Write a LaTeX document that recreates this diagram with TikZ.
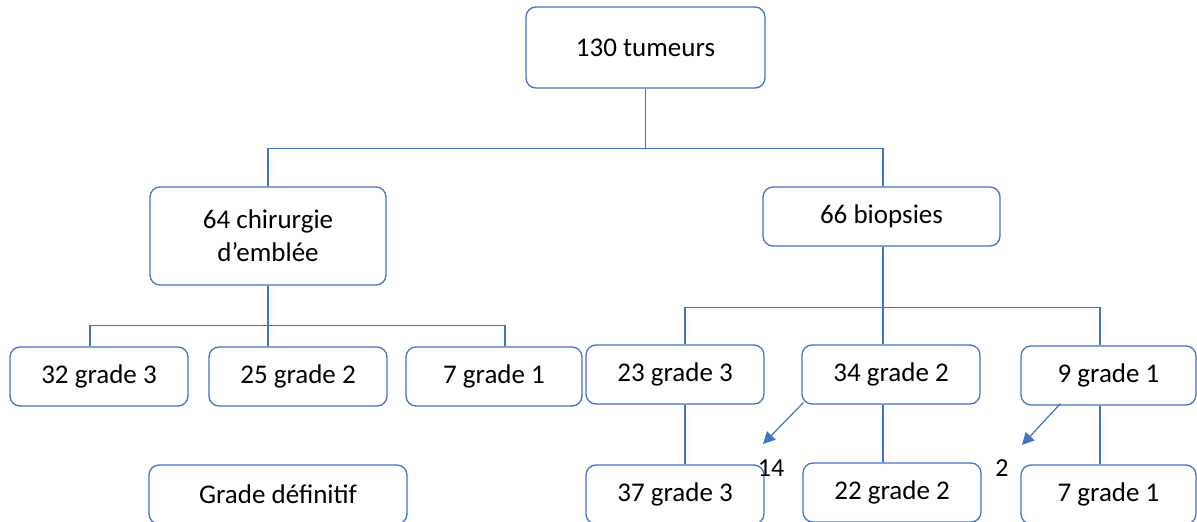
\documentclass[tikz,border=0pt]{standalone}
\usepackage{fontspec}
\setmainfont{Carlito}
\usetikzlibrary{arrows.meta}
\definecolor{bl}{HTML}{4472C4}
\begin{document}
\begin{tikzpicture}[x=1pt,y=-1pt,
  box/.style={draw=bl, line width=1.3pt, rounded corners=10pt, fill=white, align=center,
    font=\fontsize{27}{33}\selectfont, inner sep=0pt},
  conn/.style={draw=bl, line width=1.2pt},
  arr/.style={conn, -{Triangle[length=12pt,width=12pt]}, fill=bl},
  lbl/.style={font=\fontsize{26}{30}\selectfont, inner sep=0pt}]
\useasboundingbox (0,0) rectangle (1197,522);
\clip (0,0) rectangle (1197,522);
% nodes
\node[box, minimum width=239pt, minimum height=81pt] (root) at (645.5,47.5) {130 tumeurs};
\node[box, minimum width=236pt, minimum height=98pt] (chir) at (268,236) {64 chirurgie\\d’emblée};
\node[box, minimum width=237pt, minimum height=59pt] (biop) at (881.5,216.5) {66 biopsies};
\node[box, minimum width=178pt, minimum height=59pt] (l3) at (99,376.5) {32 grade 3};
\node[box, minimum width=178pt, minimum height=59pt] (l2) at (298,376.5) {25 grade 2};
\node[box, minimum width=176pt, minimum height=59pt] (l1) at (494,376.5) {7 grade 1};
\node[box, minimum width=178pt, minimum height=59pt] (r3) at (675,374.5) {23 grade 3};
\node[box, minimum width=178pt, minimum height=59pt] (r2) at (891,374.5) {34 grade 2};
\node[box, minimum width=175pt, minimum height=59pt] (r1) at (1108.5,375.5) {9 grade 1};
\node[box, minimum width=258pt, minimum height=59pt] (gd) at (278,494.5) {Grade définitif};
\node[box, minimum width=178pt, minimum height=59pt] (b3) at (675,494.5) {37 grade 3};
\node[box, minimum width=178pt, minimum height=59pt] (b2) at (892,492.5) {22 grade 2};
\node[box, minimum width=175pt, minimum height=59pt] (b1) at (1108.5,494.5) {7 grade 1};
\node[lbl] (n14) at (771,468) {14};
\node[lbl] (n2) at (1002,468) {2};
\coordinate (t14) at (763,444);
\coordinate (t2) at (1022,445);
% connectors
\draw[conn] (root.south) -- ++(0,60) coordinate (tb);
\draw[conn] (chir.north) |- (tb) -| ([xshift=1.5pt]biop.north);
\draw[conn] (chir.south) -- ++(0,40) coordinate (lb);
\draw[conn] ([xshift=-9pt]l3.north) |- (lb) -| ([xshift=11pt]l1.north);
\draw[conn] (lb) -- (lb |- l2.north);
\draw[conn] ([xshift=1.5pt]biop.south) -- ++(0,61) coordinate (rb);
\draw[conn] ([xshift=10pt]r3.north) |- (rb) -| ([xshift=-8.5pt]r1.north);
\draw[conn] (rb) -- (rb |- r2.north);
\draw[conn] ([xshift=10pt]r3.south) -- ([xshift=10pt]r3.south |- b3.north);
\draw[conn] ([xshift=-8pt]r2.south) -- ([xshift=-8pt]r2.south |- b2.north);
\draw[conn] ([xshift=-8.5pt]r1.south) -- ([xshift=-8.5pt]r1.south |- b1.north);
\draw[arr] ([shift={(2pt,2pt)}]r2.south west) -- (t14);
\draw[arr] ([shift={(40pt,2pt)}]r1.south west) -- (t2);
\end{tikzpicture}
\end{document}
